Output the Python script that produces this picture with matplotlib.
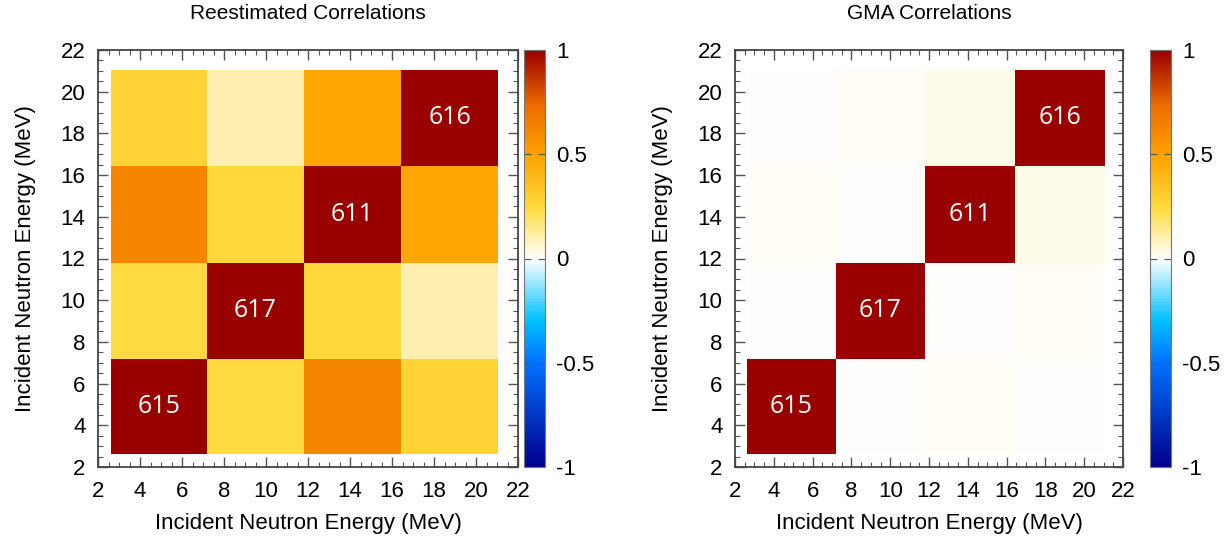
import numpy as np
import matplotlib
matplotlib.use('Agg')
import matplotlib.pyplot as plt
from matplotlib.colors import LinearSegmentedColormap
from matplotlib.ticker import MultipleLocator, AutoMinorLocator

plt.rcParams['font.family'] = ['Liberation Sans', 'DejaVu Sans']
plt.rcParams['axes.unicode_minus'] = False

# block edges in MeV (4 energy groups)
edges = [2.6, 7.2, 11.8, 16.45, 21.05]

# rows go from low to high energy (bottom to top)
reestimated = [[1.00, 0.24, 0.62, 0.28],
               [0.24, 1.00, 0.25, 0.10],
               [0.62, 0.25, 1.00, 0.48],
               [0.28, 0.10, 0.48, 1.00]]

gma = [[1.00, 0.00, 0.01, 0.00],
       [0.00, 1.00, 0.00, 0.01],
       [0.01, 0.00, 1.00, 0.03],
       [0.00, 0.01, 0.03, 1.00]]

diag_labels = ['615', '617', '611', '616']
titles = ['Reestimated Correlations', 'GMA Correlations']

cmap = LinearSegmentedColormap.from_list('corr', [
    (0.00, (0.00, 0.00, 0.55)),
    (0.25, (0.00, 0.45, 1.00)),
    (0.35, (0.00, 0.75, 1.00)),
    (0.50, (1.00, 1.00, 1.00)),
    (0.62, (1.00, 0.86, 0.25)),
    (0.75, (1.00, 0.63, 0.00)),
    (0.87, (0.92, 0.42, 0.00)),
    (1.00, (0.60, 0.00, 0.00)),
])

fig = plt.figure(figsize=(12.31, 5.38), dpi=100)
W, H = 1231.0, 538.0


def px(x0, y0, x1, y1):
    return [x0 / W, 1 - y1 / H, (x1 - x0) / W, (y1 - y0) / H]


panels = [(px(98, 50, 518, 467), px(524, 50, 545, 467)),
          (px(735, 50, 1123, 467), px(1150, 50, 1171, 467))]

for data, title, (ax_rect, cb_rect) in zip([reestimated, gma], titles, panels):
    ax = fig.add_axes(ax_rect)
    mesh = ax.pcolormesh(edges, edges, np.array(data), cmap=cmap, vmin=-1, vmax=1)
    ax.set_xlim(2, 22)
    ax.set_ylim(2, 22)
    for i, lab in enumerate(diag_labels):
        c = (edges[i] + edges[i + 1]) / 2
        ax.text(c, c, lab, color='white', ha='center', va='center',
                fontsize=18, family=['Open Sans', 'DejaVu Sans'])
    ax.xaxis.set_major_locator(MultipleLocator(2))
    ax.yaxis.set_major_locator(MultipleLocator(2))
    ax.xaxis.set_minor_locator(AutoMinorLocator(4))
    ax.yaxis.set_minor_locator(AutoMinorLocator(4))
    ax.tick_params(which='both', direction='in', top=True, right=True,
                   color='#555555', labelsize=16)
    ax.tick_params(which='major', length=7, width=1)
    ax.tick_params(which='minor', length=3.5, width=0.8)
    ax.tick_params(axis='x', pad=10)
    ax.tick_params(axis='y', pad=9)
    for s in ax.spines.values():
        s.set_color('#444444')
        s.set_linewidth(1.3)
    ax.set_xlabel('Incident Neutron Energy (MeV)', fontsize=16, labelpad=8)
    ax.set_ylabel('Incident Neutron Energy (MeV)', fontsize=16, labelpad=18)
    ax.set_title(title, fontsize=15, pad=22)

    cax = fig.add_axes(cb_rect)
    cb = fig.colorbar(mesh, cax=cax, ticks=[-1, -0.5, 0, 0.5, 1])
    cb.ax.set_yticklabels(['-1', '-0.5', '0', '0.5', '1'])
    cb.ax.tick_params(direction='in', length=5, width=0.8, color='#555555',
                      labelsize=16, left=True, pad=8)
    cb.outline.set_edgecolor('#777777')
    cb.outline.set_linewidth(0.8)

fig.savefig('out.png', dpi=100)
